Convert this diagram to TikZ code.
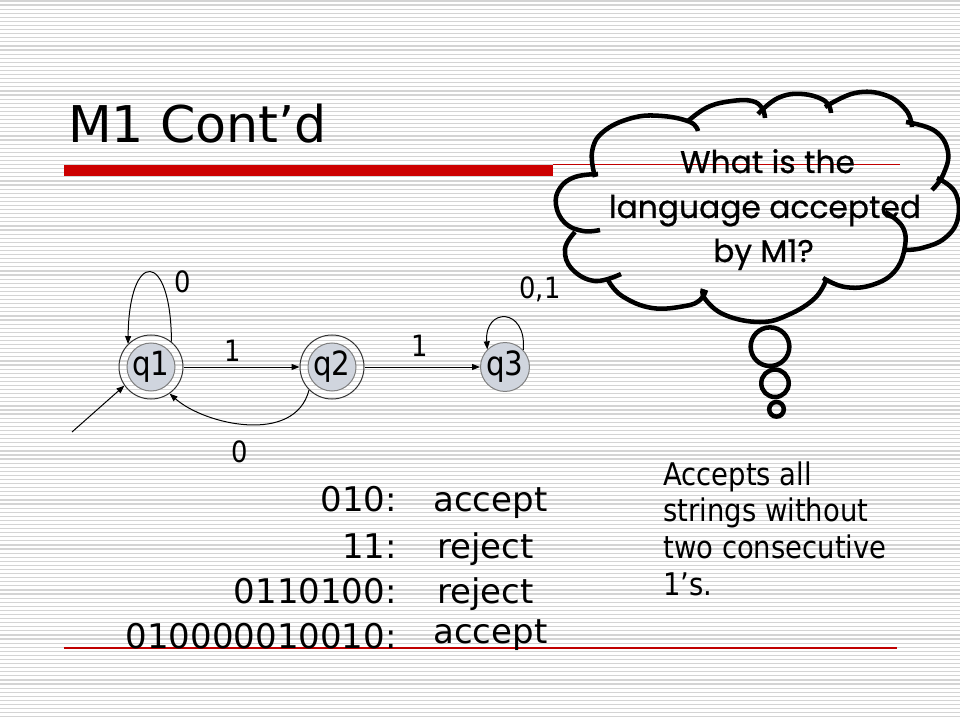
\documentclass[tikz,border=0pt]{standalone}
\usepackage{fontspec}
\setmainfont{DejaVu Sans}
\newfontfamily\tah[FakeStretch=0.88]{DejaVu Sans}
\newfontfamily\comic[FakeBold=0.7]{Poppins}
\usetikzlibrary{arrows.meta}
\definecolor{stripecol}{RGB}{212,212,212}
\definecolor{pptred}{RGB}{204,0,0}
\definecolor{thinred}{RGB}{192,0,0}
\definecolor{statefill}{RGB}{208,213,222}
\tikzset{
  stripe/.style={draw=stripecol, line width=0.9pt},
  acceptst/.style={circle, draw=black!80, line width=0.75pt, minimum size=48pt, inner sep=0pt,
    font=\tah\fontsize{25}{25}\selectfont,
    path picture={\draw[gray, line width=0.75pt, fill=statefill] (path picture bounding box.center) circle[radius=18pt];}},
  plainst/.style={circle, draw=gray, line width=0.75pt, fill=statefill, minimum size=36pt, inner sep=0pt,
    font=\tah\fontsize{25}{25}\selectfont},
  conn/.style={line width=0.75pt, -{Triangle[length=6pt,width=4.5pt]}},
  elabel/.style={inner sep=0pt, font=\tah\fontsize{22}{22}\selectfont},
  bigtxt/.style={inner sep=0pt, font=\fontsize{25.5}{26}\selectfont},
  sidetxt/.style={inner sep=0pt, anchor=base west, font=\tah\fontsize{23.4}{26}\selectfont},
  cloudtxt/.style={inner sep=0pt, anchor=base, font=\comic\fontsize{23.5}{26}\selectfont},
  cloudline/.style={line width=3.4pt, draw=black},
}
\begin{document}
\begin{tikzpicture}[x=0.75pt,y=-0.75pt]
\useasboundingbox (0,0) rectangle (960,720);
\fill[white] (0,0) rectangle (960,720);
\foreach \i in {0,...,176} \draw[stripe] (0,{\i*4.09+1}) -- (960,{\i*4.09+1});

% title and rules
\fill[pptred] (64,165) rectangle (553,176);
\draw[thinred, line width=0.9pt] (553,164.5) -- (900,164.5);
\draw[thinred, line width=0.9pt] (64,648) -- (897,648);
\node[anchor=base west, inner sep=0pt, font=\fontsize{38}{40}\selectfont] (title) at (68,143) {M1 Cont’d};

% automaton
\node[acceptst] (q1) at (151,367) {q1};
\node[acceptst] (q2) at (332,367) {q2};
\node[plainst] (q3) at (505,367) {q3};
\coordinate (start) at (72,432);

\draw[conn] (start) -- (q1.215);
\draw[conn] (q1) -- (q2);
\draw[conn] (q2) -- (q3);
\draw[conn] (q1.51) .. controls (171,249) and (129,249) .. (q1.135);
\draw[conn] (q3.43) .. controls (527,307) and (484,307) .. (q3.135);
\draw[conn] (q2.225) .. controls (295,445) and (205,425) .. (q1.305);

\node[elabel] (l0a) at (183,282) {0};
\node[elabel] (l1a) at (233,351) {1};
\node[elabel] (l1b) at (420,346) {1};
\node[elabel, anchor=base] (l01) at (540,298) {0,1};
\node[elabel] (l0b) at (240,452) {0};

% examples
\node[bigtxt, anchor=base east] (s1) at (397,511.7) {010:};
\node[bigtxt, anchor=base east] (s2) at (397,558) {11:};
\node[bigtxt, anchor=base east] (s3) at (397,603) {0110100:};
\node[bigtxt, anchor=base east] (s4) at (397,648) {010000010010:};
\node[bigtxt, anchor=base west] (r1) at (433,511.7) {accept};
\node[bigtxt, anchor=base west] (r2) at (437,558) {reject};
\node[bigtxt, anchor=base west] (r3) at (437,603) {reject};
\node[bigtxt, anchor=base west] (r4) at (433,643) {accept};

% side note
\node[sidetxt] (n1) at (663,485) {Accepts all};
\node[sidetxt] (n2) at (663,521.7) {strings without};
\node[sidetxt] (n3) at (663,558.3) {two consecutive};
\node[sidetxt] (n4) at (663,595) {1’s.};

% cloud
\draw[cloudline] plot[smooth, tension=0.7] coordinates {(600,230) (583,231) (565,223) (556,205) (560,188) (575,177) (598,174)};
\draw[cloudline] plot[smooth, tension=0.7] coordinates {(595,177) (592,152) (603,132) (632,118) (662,116) (690,122) (698,131)};
\draw[cloudline] plot[smooth, tension=0.7] coordinates {(688,121) (708,107) (732,101) (752,101) (762,108) (765,118)};
\draw[cloudline] plot[smooth, tension=0.7] coordinates {(758,114) (778,98) (802,94) (825,101) (831,113)};
\draw[cloudline] plot[smooth, tension=0.7] coordinates {(825,107) (855,93) (885,95) (906,110) (912,127)};
\draw[cloudline] plot[smooth, tension=0.7] coordinates {(906,122) (935,131) (948,152) (943,175) (932,190)};
\draw[cloudline] plot[smooth, tension=0.7] coordinates {(937,178) (955,192) (958,218) (945,238) (922,248) (903,250)};
\draw[cloudline] plot[smooth, tension=0.7] coordinates {(885,212) (902,226) (905,246) (895,271) (872,285) (845,287) (823,278)};
\draw[cloudline] plot[smooth, tension=0.7] coordinates {(827,278) (815,298) (788,315) (760,322) (725,315) (705,299) (703,289)};
\draw[cloudline] plot[smooth, tension=0.7] coordinates {(706,290) (700,300) (685,306) (652,308) (622,296) (608,280)};
\draw[cloudline] plot[smooth, tension=0.7] coordinates {(621,274) (595,281) (572,269) (565,249) (575,232)};

\draw[cloudline] (770,346.7) circle[radius=14.5pt];
\draw[cloudline] (775,383.3) circle[radius=10.3pt];
\draw[cloudline] (776.5,409.3) circle[radius=5.5pt];

\node[cloudtxt] (c1) at (767.5,173) {What is the};
\node[cloudtxt] (c2) at (765,218) {language accepted};
\node[cloudtxt] (c3) at (763.5,262) {by M1?};
\end{tikzpicture}
\end{document}
